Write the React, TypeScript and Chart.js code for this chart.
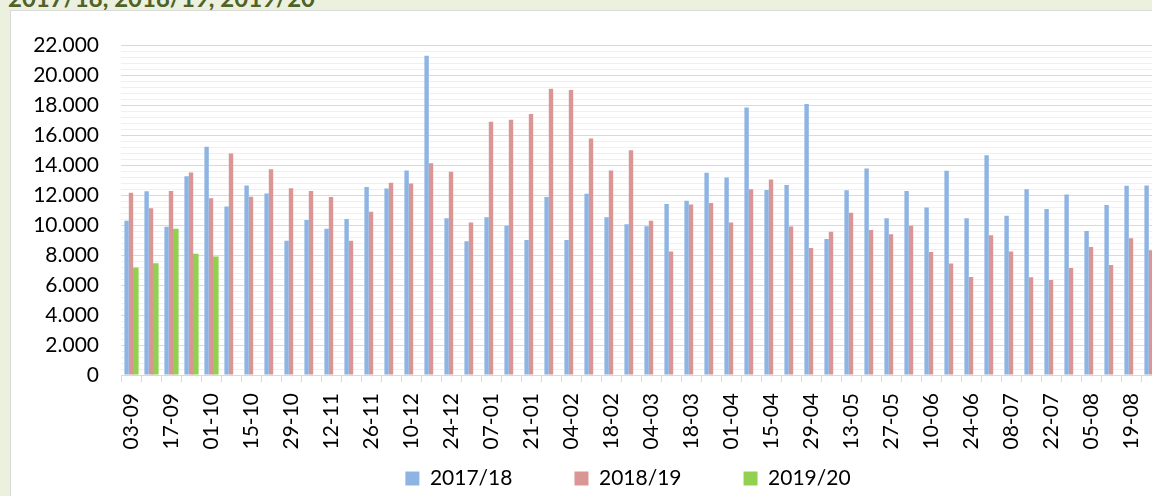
import React, { useEffect, useRef } from 'react';
import { Chart, registerables } from 'chart.js';

Chart.register(...registerables);

const weekLabels: string[] = [
  '03-09', '10-09', '17-09', '24-09', '01-10', '08-10', '15-10', '22-10', '29-10', '05-11',
  '12-11', '19-11', '26-11', '03-12', '10-12', '17-12', '24-12', '31-12', '07-01', '14-01',
  '21-01', '28-01', '04-02', '11-02', '18-02', '25-02', '04-03', '11-03', '18-03', '25-03',
  '01-04', '08-04', '15-04', '22-04', '29-04', '06-05', '13-05', '20-05', '27-05', '03-06',
  '10-06', '17-06', '24-06', '01-07', '08-07', '15-07', '22-07', '29-07', '05-08', '12-08',
  '19-08', '26-08',
];

const series1718: number[] = [
  10310, 12270, 9900, 13270, 15250, 11250, 12660, 12120, 8960, 10360,
  9770, 10420, 12550, 12450, 13660, 21330, 10470, 8940, 10530, 9970,
  9010, 11880, 9010, 12100, 10530, 10070, 9940, 11420, 11640, 13510,
  13190, 17870, 12360, 12690, 18100, 9090, 12340, 13800, 10470, 12290,
  11180, 13640, 10470, 14670, 10640, 12400, 11080, 12050, 9620, 11360,
  12640, 12660,
];

const series1819: number[] = [
  12180, 11140, 12290, 13530, 11810, 14800, 11900, 13750, 12470, 12290,
  11880, 8960, 10900, 12840, 12790, 14140, 13580, 10180, 16910, 17040,
  17430, 19110, 19040, 15800, 13660, 15010, 10310, 8250, 11380, 11490,
  10180, 12400, 13060, 9920, 8490, 9570, 10840, 9680, 9400, 9970,
  8220, 7440, 6550, 9330, 8250, 6530, 6350, 7140, 8550, 7350,
  9140, 8330,
];

const series1920: (number | null)[] = [7180, 7460, 9770, 8090, 7920];

const seriesNames: string[] = ['2017/18', '2018/19', '2019/20'];
const titleText = '2017/18, 2018/19, 2019/20';

const yMax = 22000;
const yMajor = 2000;
const yMinor = 400;

const CW = 1234;
const CH = 488;
const FONT = 'Lato';
const TICK_SIZE = 21;

function fmt(v: number): string {
  if (v === 0) return '0';
  return `${Math.round(v / 1000)}.000`;
}

export default function App() {
  const ref = useRef<HTMLCanvasElement>(null);

  useEffect(() => {
    document.body.style.margin = '0';
    const canvas = ref.current;
    if (!canvas) return;
    const chart = new Chart(canvas, {
      type: 'bar',
      data: {
        labels: weekLabels,
        datasets: [
          {
            label: seriesNames[0],
            data: series1718,
            backgroundColor: '#8eb4e3',
            barPercentage: 1,
            categoryPercentage: 0.66,
            yAxisID: 'y',
          },
          {
            label: seriesNames[1],
            data: series1819,
            backgroundColor: '#d99694',
            barPercentage: 1,
            categoryPercentage: 0.66,
            yAxisID: 'y',
          },
          {
            label: seriesNames[2],
            data: series1920,
            backgroundColor: '#92d050',
            barPercentage: 1.45,
            categoryPercentage: 0.66,
            yAxisID: 'y',
          },
        ],
      },
      options: {
        responsive: false,
        animation: false,
        devicePixelRatio: 1,
        layout: { padding: { top: 27, left: 0, right: 0, bottom: 0 } },
        plugins: {
          legend: {
            position: 'bottom',
            labels: {
              boxWidth: 14,
              boxHeight: 14,
              padding: 62,
              color: '#000',
              font: { family: FONT, size: TICK_SIZE },
            },
          },
          tooltip: { enabled: false },
          title: { display: false },
        },
        scales: {
          x: {
            grid: {
              offset: true,
              drawOnChartArea: false,
              drawTicks: true,
              tickLength: 7,
              color: '#d9d9d9',
            },
            border: { display: true, color: '#d9d9d9' },
            ticks: {
              autoSkip: false,
              minRotation: 90,
              maxRotation: 90,
              mirror: true,
              padding: -18,
              labelOffset: TICK_SIZE * 1.2,
              color: '#000',
              font: { family: FONT, size: TICK_SIZE },
              callback: (_v: any, i: number) => (i % 2 === 0 ? weekLabels[i] : ''),
            },
            afterFit: (s: any) => {
              s.height = 31;
            },
          },
          y: {
            min: 0,
            max: yMax,
            ticks: {
              stepSize: yMinor,
              maxTicksLimit: 200,
              autoSkip: false,
              padding: 22,
              color: '#000',
              font: { family: FONT, size: TICK_SIZE },
              callback: (v: any) => (Number(v) % yMajor === 0 ? fmt(Number(v)) : ''),
            },
            grid: {
              drawTicks: false,
              color: (c: any) =>
                c.tick && Math.round(c.tick.value) % yMajor === 0 ? '#d9d9d9' : '#f0f0f0',
            },
            border: { display: false },
            afterFit: (s: any) => {
              s.width = 110;
            },
          },
          y2: {
            position: 'right',
            display: true,
            grid: { display: false },
            ticks: { display: false },
            border: { display: false },
            afterFit: (s: any) => {
              s.width = CW - 1150;
            },
          },
        },
      },
    } as any);
    return () => chart.destroy();
  }, []);

  return (
    <div
      style={{
        position: 'relative',
        width: 1152,
        height: 496,
        overflow: 'hidden',
        background: '#ebf1de',
      }}
    >
      <div
        style={{
          position: 'absolute',
          left: 8,
          top: -14,
          fontFamily: FONT,
          fontWeight: 'bold',
          fontSize: 24,
          lineHeight: '24px',
          color: '#4f6228',
          whiteSpace: 'nowrap',
        }}
      >
        {titleText}
      </div>
      <div
        style={{
          position: 'absolute',
          left: 10,
          top: 10,
          width: CW,
          height: CH,
          border: '1px solid #d9d9d9',
          background: '#fff',
        }}
      >
        <canvas
          ref={ref}
          width={CW}
          height={CH}
          style={{ display: 'block', width: CW, height: CH }}
        />
      </div>
    </div>
  );
}
